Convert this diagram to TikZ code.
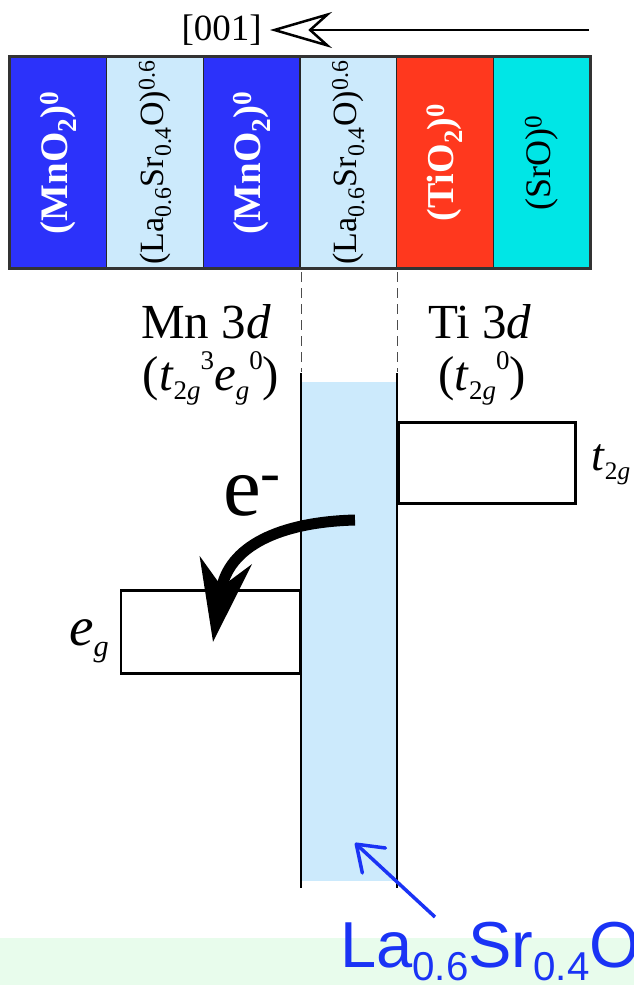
\documentclass[tikz,border=0pt]{standalone}
\usepackage{graphicx}
\usepackage{fontspec}
\setmainfont{Liberation Serif}
\newfontfamily\arialfont{Liberation Sans}
\usetikzlibrary{arrows.meta}

\definecolor{mnoblue}{RGB}{44,50,250}
\definecolor{lsmoblue}{RGB}{204,234,252}
\definecolor{tiored}{RGB}{255,56,30}
\definecolor{srocyan}{RGB}{0,230,230}
\definecolor{lblblue}{RGB}{26,51,245}
\definecolor{bandgreen}{RGB}{232,252,236}

% small lowered / raised text
\newcommand{\lsub}[2][0.55]{\raisebox{-0.2em}{\scalebox{#1}{#2}}}
\newcommand{\hsup}[2][0.55]{\raisebox{0.42em}{\scalebox{#1}{#2}}}

\tikzset{
  layer/.style={draw=black!85, line width=1.2pt, minimum width=96.67pt,
    minimum height=211pt, inner sep=0pt},
  laytext/.style={rotate=90, inner sep=0pt},
  level/.style={draw, line width=2.5pt, inner sep=0pt},
  guide/.style={draw=black!70, line width=1pt, dash pattern=on 10pt off 6pt},
  wall/.style={draw, line width=2.5pt},
}

\begin{document}
\begin{tikzpicture}[x=1pt, y=-1pt]
  \useasboundingbox (0,0) rectangle (634,985);
  \clip (0,0) rectangle (634,985);

  % ---- growth direction ----
  \node[anchor=east, inner sep=8pt, font=\fontsize{37}{40}\selectfont] (dir) at (270,30) {[001]};
  \coordinate (dirstart) at (589,30);
  \draw[line width=2.5pt, -{Stealth[open, fill=white, length=62pt, width=36pt, inset=20pt]}]
    (dirstart) -- (dir);

  % ---- layer stack ----
  \foreach \i/\col/\tc/\sz/\txt in {
      0/mnoblue/white/39/{\bfseries(MnO\textsubscript{2})\textsuperscript{0}},
      1/lsmoblue/black/34/{(La\textsubscript{0.6}Sr\textsubscript{0.4}O)\textsuperscript{0.6}},
      2/mnoblue/white/39/{\bfseries(MnO\textsubscript{2})\textsuperscript{0}},
      3/lsmoblue/black/34/{(La\textsubscript{0.6}Sr\textsubscript{0.4}O)\textsuperscript{0.6}},
      4/tiored/white/38/{\bfseries(TiO\textsubscript{2})\textsuperscript{0}},
      5/srocyan/black/36/{(SrO)\textsuperscript{0}}} {
    \node[layer, fill=\col] (lay\i) at ({10+96.67*(\i+0.5)},162.5) {};
    \node[laytext, text=\tc, font=\fontsize{\sz}{\sz}\selectfont] at (lay\i) {\txt};
  }
  \draw[line width=3pt, draw=black!80] (lay0.north west) rectangle (lay5.south east);

  % ---- spacer layer between the two oxides ----
  \draw[guide] (301,272) -- (301,372);
  \draw[guide] (397,272) -- (397,372);
  \fill[lsmoblue] (302,382) rectangle (396,881);
  \draw[wall] (301,373) -- (301,888);
  \draw[wall] (397,373) -- (397,888);

  % ---- d levels ----
  \node[level, minimum width=177pt, minimum height=81pt, anchor=north west] (t2g) at (397,421) {};
  \node[level, minimum width=179pt, minimum height=83pt, anchor=north east] (eg) at (301,589) {};
  \node[anchor=base west, inner sep=0pt, font=\fontsize{46}{48}\selectfont]
    (t2glbl) at (591,470) {\textit{t}\lsub{2\textit{g}}};
  \node[anchor=base west, inner sep=0pt, font=\fontsize{55}{56}\selectfont]
    (eglbl) at (69,645) {\textit{e}\lsub{\textit{g}}};

  \node[anchor=base, font=\fontsize{49}{50}\selectfont] (mnlbl) at (206,338) {Mn 3\textit{d}};
  \node[anchor=base, font=\fontsize{49}{50}\selectfont] (mncfg) at (211,390)
    {(\textit{t}\lsub{2\textit{g}}\hsup{3}\textit{e}\lsub{\textit{g}}\hsup{0})};
  \node[anchor=base, font=\fontsize{49}{50}\selectfont] (tilbl) at (480,338) {Ti 3\textit{d}};
  \node[anchor=base, font=\fontsize{49}{50}\selectfont] (ticfg) at (482,390)
    {(\textit{t}\lsub{2\textit{g}}\hsup{0})};

  % ---- charge transfer ----
  \node[anchor=base west, inner sep=0pt, font=\fontsize{85}{85}\selectfont] (elec) at (223,515)
    {e\raisebox{0.27em}{\fontsize{60}{60}\selectfont -}};
  \coordinate (hop) at (355,520);
  \coordinate (hopend) at (213,642);
  \draw[line width=11pt, -{Stealth[length=82pt, width=52pt, inset=26pt]}]
    (hop) .. controls (280,522) and (228,546) .. (hopend);

  % ---- spacer label ----
  \fill[bandgreen] (0,938) rectangle (634,985);
  \node[anchor=base west, inner sep=0pt, text=lblblue, font=\arialfont\fontsize{65}{66}\selectfont]
    (lsmolbl) at (340,967) {La\lsub[0.62]{0.6}Sr\lsub[0.62]{0.4}O};
  \coordinate (ptr) at (435,917);
  \coordinate (ptrtip) at (355,843);
  \draw[lblblue, line width=3.5pt, -{Straight Barb[length=24pt, width=34pt, round]}] (ptr) -- (ptrtip);

\end{tikzpicture}
\end{document}
